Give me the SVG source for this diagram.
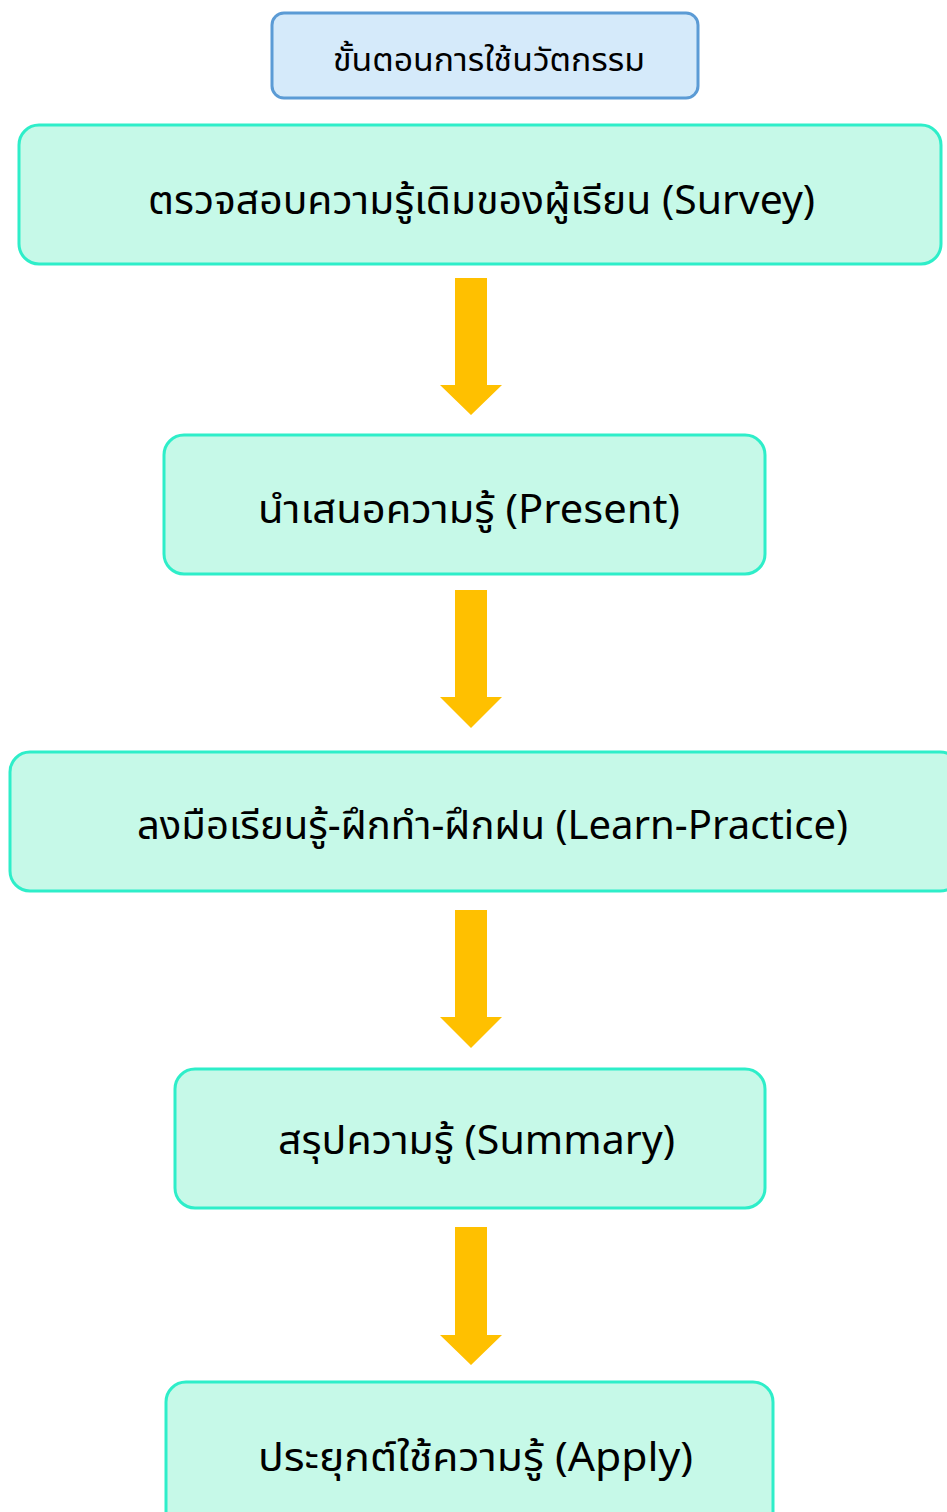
<svg xmlns="http://www.w3.org/2000/svg" width="947" height="1512" viewBox="0 0 947 1512">
<style>
.t{font-family:"Noto Sans","Noto Sans Thai","DejaVu Sans",sans-serif;fill:#000;text-anchor:middle}
.box{fill:#c6f9e8;stroke:#2eeec9;stroke-width:3}
.arr{fill:#ffc000}
</style>
<rect width="947" height="1512" fill="#fff"/>
<g id="title">
<rect x="272" y="13" width="426" height="85" rx="12" fill="#d5eafa" stroke="#5b9bd5" stroke-width="3"/>
<text class="t" x="489" y="71" font-size="32" textLength="312" lengthAdjust="spacingAndGlyphs">ขั้นตอนการใช้นวัตกรรม</text>
</g>
<g id="survey">
<rect class="box" x="19" y="125" width="922" height="139" rx="20"/>
<text class="t" x="481.5" y="214" font-size="40" textLength="667" lengthAdjust="spacingAndGlyphs">ตรวจสอบความรู้เดิมของผู้เรียน (Survey)</text>
</g>
<g id="present">
<rect class="box" x="164" y="435" width="601" height="139" rx="20"/>
<text class="t" x="469" y="523" font-size="40" textLength="422" lengthAdjust="spacingAndGlyphs">นำเสนอความรู้ (Present)</text>
</g>
<g id="learn">
<rect class="box" x="10" y="752" width="950" height="139" rx="20"/>
<text class="t" x="492.5" y="839" font-size="40" textLength="711" lengthAdjust="spacingAndGlyphs">ลงมือเรียนรู้-ฝึกทำ-ฝึกฝน (Learn-Practice)</text>
</g>
<g id="summary">
<rect class="box" x="175" y="1069" width="590" height="139" rx="20"/>
<text class="t" x="476.5" y="1154" font-size="40" textLength="397" lengthAdjust="spacingAndGlyphs">สรุปความรู้ (Summary)</text>
</g>
<g id="apply">
<rect class="box" x="166" y="1382" width="607" height="160" rx="20"/>
<text class="t" x="475.5" y="1471" font-size="40" textLength="435" lengthAdjust="spacingAndGlyphs">ประยุกต์ใช้ความรู้ (Apply)</text>
</g>
<g id="connectors">
<polygon class="arr" points="455,278 487,278 487,385 502,385 471,415 440,385 455,385"/>
<polygon class="arr" points="455,590 487,590 487,697 502,697 471,728 440,697 455,697"/>
<polygon class="arr" points="455,910 487,910 487,1017 502,1017 471,1048 440,1017 455,1017"/>
<polygon class="arr" points="455,1227 487,1227 487,1335 502,1335 471,1365 440,1335 455,1335"/>
</g>
</svg>
